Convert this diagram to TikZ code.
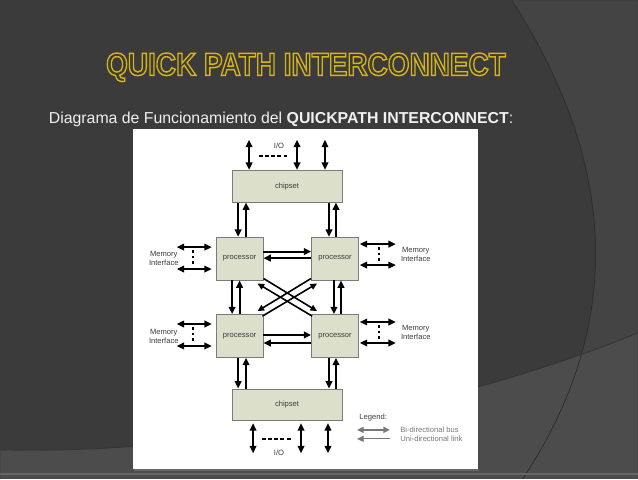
\documentclass[tikz,border=0pt]{standalone}
\usepackage{fontspec}
\setmainfont{Liberation Sans}
\usepackage{graphicx}
\usetikzlibrary{arrows.meta,calc}

\definecolor{slatebg}{RGB}{59,59,59}
\definecolor{slatemid}{RGB}{68,68,68}
\definecolor{slatelow}{RGB}{76,76,76}
\definecolor{slatearc}{RGB}{46,46,46}
\definecolor{titlegold}{RGB}{214,181,20}
\definecolor{subtext}{RGB}{240,240,240}
\definecolor{boxfill}{RGB}{220,223,202}
\definecolor{boxedge}{RGB}{122,122,122}
\definecolor{labelgray}{RGB}{60,60,60}
\definecolor{legendgray}{RGB}{120,120,120}

% outlined (stroked) title lettering
\newcommand{\strokedword}[1]{\special{pdf:code q 1 Tr 1.1 w}\textcolor{titlegold}{#1}\special{pdf:code Q}}

\tikzset{every picture/.style={line width=0.75pt}}
\tikzset{
  blockbox/.style={draw=boxedge, fill=boxfill, line width=0.6, inner sep=0pt,
    font=\fontsize{5.7}{6.8}\selectfont, text=labelgray},
  chipbox/.style={blockbox, minimum width=82.5pt, minimum height=24pt},
  procbox/.style={blockbox, minimum width=35.25pt, minimum height=32.25pt},
  unilink/.style={line width=1.6, -{Triangle[length=5.5pt,width=5pt]}},
  diaglink/.style={line width=1.2, -{Triangle[length=5pt,width=4.5pt]}},
  bibus/.style={line width=1.1, {Triangle[length=5.5pt,width=5pt]}-{Triangle[length=5.5pt,width=5pt]}},
  dotrun/.style={line width=1.6, dash pattern=on 2pt off 2.2pt},
  iodash/.style={line width=1.6, dash pattern=on 3pt off 1.6pt},
  smalltext/.style={font=\fontsize{5.7}{6.8}\selectfont, text=labelgray, inner sep=0pt},
  legendbi/.style={draw=legendgray, line width=1.4, {Triangle[length=5pt,width=4.5pt]}-{Triangle[length=5pt,width=4.5pt]}},
  legenduni/.style={draw=legendgray, line width=0.8, -{Triangle[length=5pt,width=4.5pt]}},
}

\begin{document}
\begin{tikzpicture}[x=0.75pt,y=0.75pt,yscale=-1,xscale=1]
	%Shape: Rectangle [slide background]
	\fill[slatebg] (0,0) rectangle (638,479);
	%Shape: right panel behind the arc
	\fill[slatemid] (512,0) .. controls (622,170) and (622,330) .. (523,479) -- (638,479) -- (638,0) -- cycle;
	%Shape: lower band
	\fill[slatelow] (0,450) .. controls (200,455) and (450,410) .. (638,333) -- (638,479) -- (0,479) -- cycle;
	%Curve Lines
	\draw[slatearc, line width=0.6] (512,0) .. controls (622,170) and (622,330) .. (523,479);
	\draw[slatearc!80!slatelow, line width=0.6] (0,450) .. controls (200,455) and (450,410) .. (638,333);
	%Shape: bottom strip
	\fill[slatelow!85!white] (0,473) rectangle (638,475);

	%Shape: white panel
	\fill[black!60] (134,469) rectangle (479,471);
	\fill[white] (133,129) rectangle (478,469);

	% Text Node
	\node[anchor=base, inner sep=0] (title) at (306,75) {\scalebox{0.875}[1]{\fontsize{24}{28}\selectfont\bfseries\strokedword{QUICK PATH INTERCONNECT}}};
	% Text Node
	\node[anchor=base west, inner sep=0, text=subtext, font=\fontsize{11.9}{14}\selectfont] (subtitle) at (48,123) {Diagrama de Funcionamiento del \textbf{QUICKPATH INTERCONNECT}:};

	%Shape: blocks
	\node[chipbox] (chipA) at (287,186) {chipset};
	\node[procbox] (procTL) at (239.5,258.5) {processor};
	\node[procbox] (procTR) at (335,258.5) {processor};
	\node[procbox] (procBL) at (239.5,336) {processor};
	\node[procbox] (procBR) at (335,336) {processor};
	\node[chipbox] (chipB) at (287,405) {chipset};

	%Straight Lines [vertical link pairs]
	\foreach \nH/\nL/\nR/\dA/\dB in {chipA/procTL/procTL/-1.5/6.5, chipA/procTR/procTR/-6/1,
	    procTL/procBL/procTL/-7.5/0, procTR/procBR/procTR/-1/6,
	    procBL/chipB/procBL/-1.5/6.5, procBR/chipB/procBR/-6/1}{
	  \coordinate (dn) at ($(\nR.center)+(\dA,0)$);
	  \coordinate (up) at ($(\nR.center)+(\dB,0)$);
	  \draw[unilink] (dn |- \nH.south) -- (dn |- \nL.north);
	  \draw[unilink] (up |- \nL.north) -- (up |- \nH.south);
	}
	%Straight Lines [horizontal link pairs]
	\foreach \nW/\nE/\dA/\dB in {procTL/procTR/-7/-0.5, procBL/procBR/-1/7}{
	  \coordinate (rt) at ($(\nW.center)+(0,\dA)$);
	  \coordinate (lt) at ($(\nW.center)+(0,\dB)$);
	  \draw[unilink] (rt -| \nW.east) -- (rt -| \nE.west);
	  \draw[unilink] (lt -| \nE.west) -- (lt -| \nW.east);
	}
	%Straight Lines [crossing links]
	\draw[diaglink] ($(procTL.south east)+(0,-2)$) -- ($(procBR.north west)+(6,-3)$);
	\draw[diaglink] ($(procBR.north west)+(1,2)$) -- ($(procTL.south east)+(-6,3)$);
	\draw[diaglink] ($(procTR.south west)+(0,-2)$) -- ($(procBL.north east)+(-6,-3)$);
	\draw[diaglink] ($(procBL.north east)+(-1,2)$) -- ($(procTR.south west)+(6,3)$);

	%Straight Lines [I/O buses]
	\foreach \dx in {-38,10,38}{
	  \draw[bibus] ($(chipA.north)+(\dx,-30)$) -- ($(chipA.north)+(\dx,0)$);
	}
	\draw[iodash] ($(chipA.north)+(-28,-14)$) -- ($(chipA.north)+(0,-14)$);
	\node[smalltext] (ioA) at ($(chipA.north)+(-8,-24)$) {I/O};
	\foreach \dx in {-34,14,41}{
	  \draw[bibus] ($(chipB.south)+(\dx,2)$) -- ($(chipB.south)+(\dx,32)$);
	}
	\draw[iodash] ($(chipB.south)+(-25,18)$) -- ($(chipB.south)+(4,18)$);
	\node[smalltext] (ioB) at ($(chipB.south)+(-8,32)$) {I/O};

	%Straight Lines [memory interfaces, left]
	\foreach \nP/\yA/\yB/\yC/\yD/\yT in {procTL/-11.5/10.5/-8.5/6.5/-0.5, procBL/-12/10/-9/7/0.5}{
	  \draw[bibus] ($(\nP.west)+(-39,\yA)$) -- ($(\nP.west)+(-4,\yA)$);
	  \draw[bibus] ($(\nP.west)+(-39,\yB)$) -- ($(\nP.west)+(-4,\yB)$);
	  \draw[dotrun] ($(\nP.west)+(-23,\yC)$) -- ($(\nP.west)+(-23,\yD)$);
	  \node[smalltext, align=center] (mem\nP) at ($(\nP.west)+(-52,\yT)$) {Memory\\Interface};
	}
	%Straight Lines [memory interfaces, right]
	\foreach \nP/\yA/\yB/\yC/\yD/\yT in {procTR/-14.5/6.5/-11.5/4.5/-4, procBR/-14/7/-11/4/-4}{
	  \draw[bibus] ($(\nP.east)+(1,\yA)$) -- ($(\nP.east)+(37,\yA)$);
	  \draw[bibus] ($(\nP.east)+(1,\yB)$) -- ($(\nP.east)+(37,\yB)$);
	  \draw[dotrun] ($(\nP.east)+(20,\yC)$) -- ($(\nP.east)+(20,\yD)$);
	  \node[smalltext, align=center] (mem\nP) at ($(\nP.east)+(57,\yT)$) {Memory\\Interface};
	}

	% Text Node
	\node[smalltext, anchor=west] (legend) at (359,418) {Legend:};
	% Text Node
	\node[smalltext, anchor=west, text=legendgray] (legBi) at (400,430) {Bi-directional bus};
	% Text Node
	\node[smalltext, anchor=west, text=legendgray] (legUni) at (400,439) {Uni-directional link};
	\draw[legendbi] ($(legBi.west)+(-43,0)$) -- ($(legBi.west)+(-10,0)$);
	\draw[legenduni] ($(legUni.west)+(-10,0)$) -- ($(legUni.west)+(-43,0)$);

\end{tikzpicture}
\end{document}
